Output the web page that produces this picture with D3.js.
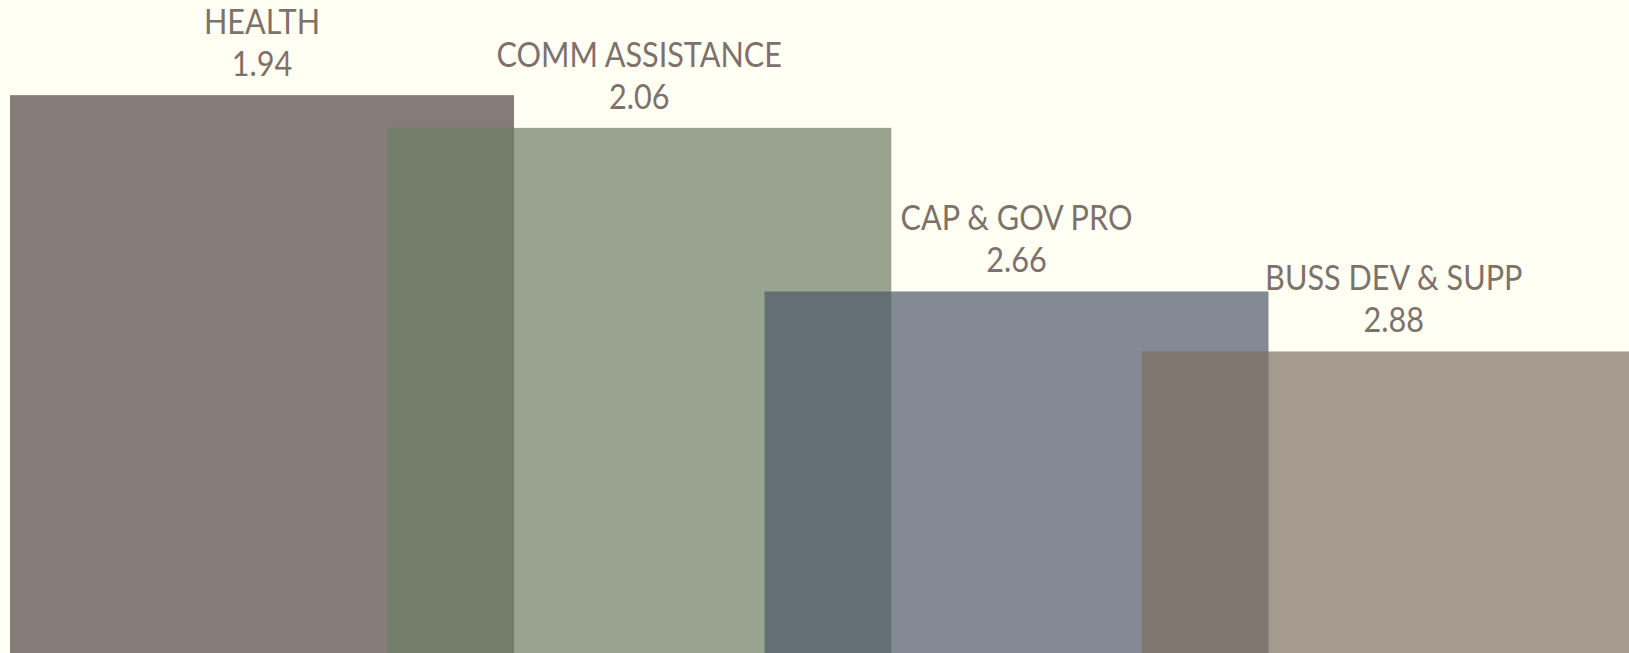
<!DOCTYPE html>
<html>
<head>
<meta charset="utf-8">
<script src="https://cdn.jsdelivr.net/npm/d3@7"></script>
<style>
    html, body { margin: 0; padding: 0; background: #fffff3; overflow: hidden; }
    #chart { width: 1629px; height: 653px; }
    .label { font-family: Lato, sans-serif; font-weight: 400; font-size: 35px; fill: #7e716b; }
</style>
</head>
<body>
<div id="chart"></div>
<script>
const categories = ["HEALTH", "COMM ASSISTANCE", "CAP & GOV PRO", "BUSS DEV & SUPP"];
const values = [1.94, 2.06, 2.66, 2.88];
const colors = ["#514542", "#6c7e64", "#4f586a", "#7d6f61"];

drawChart();

function drawChart() {
    const width = 1629;
    const height = 653;

    const data = categories.map((c, i) => ({ name: c, value: values[i], color: colors[i] }));

    const svg = d3.select("#chart")
        .append("svg")
        .attr("width", width)
        .attr("height", height);

    // bands are a bit narrower than the bars so they overlap
    const x = d3.scaleBand()
        .domain(categories)
        .range([10, 1519])
        .padding(0);

    const barWidth = x.bandwidth() * 1.336;

    // bigger value -> shorter bar
    const y = d3.scaleLinear()
        .domain([1.591, 3.986])
        .range([0, height]);

    const g = svg.selectAll(".bar")
        .data(data)
        .enter().append("g")
        .attr("class", "bar");

    g.append("rect")
        .attr("x", d => x(d.name))
        .attr("y", d => y(d.value))
        .attr("width", barWidth)
        .attr("height", d => height - y(d.value))
        .style("fill", d => d.color)
        .style("opacity", 0.7);

    // the original face is narrower, squeeze the labels a little
    g.append("text")
        .attr("class", "label")
        .attr("transform", d => `translate(${x(d.name) + barWidth / 2}, ${y(d.value) - 61}) scale(0.875, 1)`)
        .attr("text-anchor", "middle")
        .text(d => d.name);

    g.append("text")
        .attr("class", "label")
        .attr("transform", d => `translate(${x(d.name) + barWidth / 2}, ${y(d.value) - 19}) scale(0.875, 1)`)
        .attr("text-anchor", "middle")
        .text(d => d3.format(".2f")(d.value));
}
</script>
</body>
</html>
